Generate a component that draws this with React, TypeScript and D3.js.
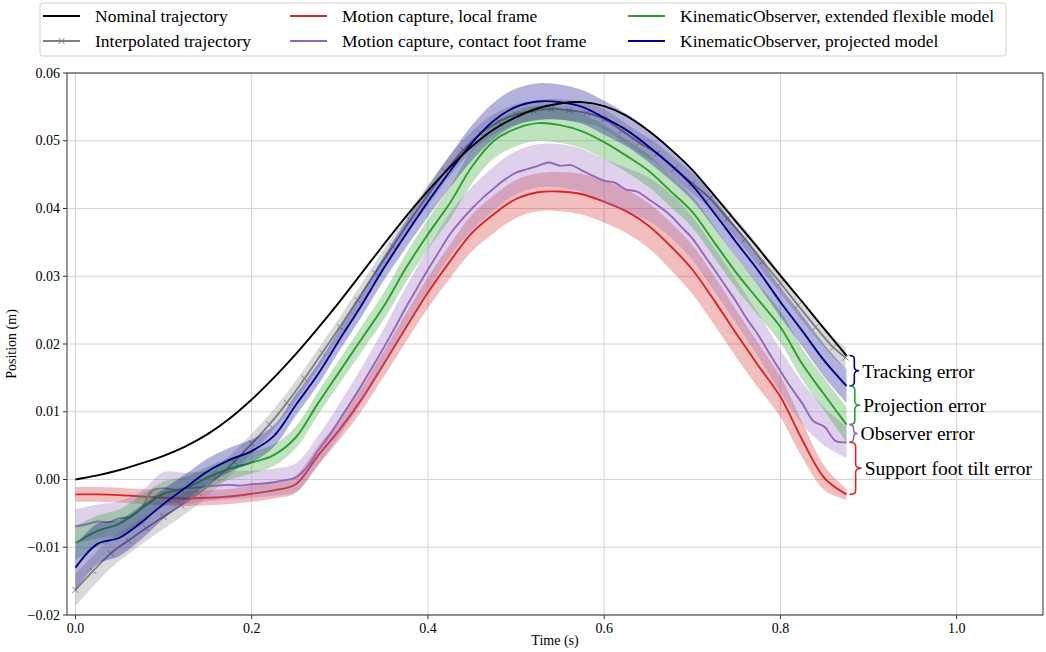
import React from "react";
import * as d3 from "d3";

// ---- data ----
const T = [0, 0.025, 0.05, 0.075, 0.1, 0.125, 0.15, 0.175, 0.2, 0.225, 0.25, 0.275, 0.3, 0.325, 0.35, 0.375, 0.4, 0.425, 0.45, 0.475, 0.5, 0.525, 0.55, 0.575, 0.6, 0.625, 0.65, 0.675, 0.7, 0.725, 0.75, 0.775, 0.8, 0.825, 0.85, 0.875];

const nominal = [0.0, 0.0006, 0.0014, 0.0024, 0.0035, 0.0049, 0.0067, 0.009, 0.0118, 0.015, 0.0185, 0.0223, 0.0263, 0.0305, 0.0347, 0.0388, 0.0426, 0.0461, 0.0492, 0.0517, 0.0535, 0.0548, 0.0555, 0.0557, 0.0551, 0.0537, 0.0515, 0.0488, 0.0457, 0.0419, 0.038, 0.0341, 0.0301, 0.0262, 0.0222, 0.0183];

const Tinterp = [0, 0.02, 0.04, 0.06, 0.08, 0.1, 0.12, 0.14, 0.16, 0.18, 0.2, 0.22, 0.24, 0.26, 0.28, 0.3, 0.32, 0.34, 0.36, 0.38, 0.4, 0.42, 0.44, 0.46, 0.48, 0.5, 0.52, 0.54, 0.56, 0.58, 0.6, 0.62, 0.64, 0.66, 0.68, 0.7, 0.72, 0.74, 0.76, 0.78, 0.8, 0.82, 0.84, 0.86, 0.874];
const interp = [-0.0163, -0.0135, -0.0109, -0.009, -0.0072, -0.0055, -0.0038, -0.002, 0.0002, 0.0026, 0.0053, 0.0081, 0.0113, 0.0149, 0.0187, 0.0225, 0.0265, 0.0305, 0.0344, 0.0383, 0.042, 0.0455, 0.0486, 0.0511, 0.0528, 0.0539, 0.0544, 0.0547, 0.0545, 0.0541, 0.0532, 0.0515, 0.0497, 0.0481, 0.0459, 0.0437, 0.0415, 0.0385, 0.0355, 0.0322, 0.029, 0.0257, 0.0225, 0.0195, 0.018];
const interpBand = [0.0024, 0.0023, 0.0022, 0.002, 0.0019, 0.0018, 0.0017, 0.0016, 0.0015, 0.0015, 0.0015, 0.0015, 0.0015, 0.0015, 0.0015, 0.0015, 0.0015, 0.0015, 0.0015, 0.0015, 0.0015, 0.0015, 0.0015, 0.0015, 0.0015, 0.0015, 0.0015, 0.0015, 0.0015, 0.0015, 0.0015, 0.0015, 0.0015, 0.0015, 0.0015, 0.0015, 0.0015, 0.0015, 0.0015, 0.0015, 0.0015, 0.0015, 0.0015, 0.0015, 0.0015];

const mocapLocal = [-0.0022, -0.0022, -0.0023, -0.0025, -0.0027, -0.0028, -0.0027, -0.0025, -0.0021, -0.0016, -0.0007, 0.0035, 0.0074, 0.0119, 0.0171, 0.0224, 0.0276, 0.0322, 0.0364, 0.0392, 0.0414, 0.0424, 0.0425, 0.0421, 0.041, 0.0396, 0.0375, 0.0345, 0.031, 0.0264, 0.0215, 0.0168, 0.0122, 0.0058, 0.0002, -0.0022];
const mocapLocalBand = [0.0011, 0.0011, 0.0011, 0.0011, 0.0011, 0.0011, 0.0011, 0.0011, 0.0012, 0.0012, 0.0013, 0.0014, 0.0015, 0.0017, 0.0019, 0.0021, 0.0023, 0.0025, 0.0027, 0.0028, 0.0028, 0.0028, 0.0029, 0.003, 0.0031, 0.0032, 0.0033, 0.0035, 0.0036, 0.0036, 0.0035, 0.0033, 0.003, 0.0026, 0.0018, 0.0008];

const Tfine = [0, 0.0125, 0.025, 0.0375, 0.05, 0.0625, 0.075, 0.0875, 0.1, 0.1125, 0.125, 0.1375, 0.15, 0.1625, 0.175, 0.1875, 0.2, 0.2125, 0.225, 0.2375, 0.25, 0.2625, 0.275, 0.2875, 0.3, 0.3125, 0.325, 0.3375, 0.35, 0.3625, 0.375, 0.3875, 0.4, 0.4125, 0.425, 0.4375, 0.45, 0.4625, 0.475, 0.4875, 0.5, 0.5125, 0.525, 0.5375, 0.55, 0.5625, 0.575, 0.5875, 0.6, 0.6125, 0.625, 0.6375, 0.65, 0.6625, 0.675, 0.6875, 0.7, 0.7125, 0.725, 0.7375, 0.75, 0.7625, 0.775, 0.7875, 0.8, 0.8125, 0.825, 0.8375, 0.85, 0.8625, 0.875];
const mocapContact = [-0.0069, -0.0066, -0.0062, -0.0063, -0.0057, -0.0055, -0.0042, -0.0016, -0.0013, -0.0015, -0.0013, -0.0012, -0.001, -0.0009, -0.0008, -0.0009, -0.0007, -0.0006, -0.0004, -0.0001, 0.0003, 0.0018, 0.0042, 0.0064, 0.0089, 0.0114, 0.014, 0.0167, 0.0195, 0.0224, 0.0254, 0.0282, 0.031, 0.0336, 0.0362, 0.0382, 0.04, 0.0416, 0.043, 0.0443, 0.0453, 0.0458, 0.0463, 0.0468, 0.0463, 0.0464, 0.0456, 0.0448, 0.0441, 0.0438, 0.0428, 0.0425, 0.0414, 0.0403, 0.039, 0.0373, 0.0356, 0.0333, 0.031, 0.0286, 0.0262, 0.0236, 0.0213, 0.0186, 0.016, 0.0135, 0.0112, 0.0086, 0.0078, 0.0057, 0.0055];
const mocapContactBand = [0.0025, 0.0025, 0.0025, 0.0025, 0.0024, 0.0023, 0.0022, 0.0021, 0.002, 0.002, 0.0021, 0.0022, 0.0024, 0.0026, 0.0028, 0.003, 0.0031, 0.0032, 0.0032, 0.0032, 0.0032, 0.0032, 0.0032, 0.0032, 0.0032, 0.0032, 0.0032, 0.0032, 0.0032, 0.0032, 0.0032, 0.0032, 0.0032, 0.0031, 0.0028, 0.0023];

const koFlexible = [-0.0094, -0.0076, -0.0065, -0.0043, -0.0021, -0.0013, 0.0003, 0.0016, 0.0025, 0.0036, 0.0062, 0.0112, 0.016, 0.0208, 0.0256, 0.0312, 0.0362, 0.0408, 0.0462, 0.05, 0.0518, 0.0526, 0.0523, 0.0514, 0.0498, 0.0478, 0.0456, 0.0426, 0.0395, 0.035, 0.0305, 0.0265, 0.0225, 0.017, 0.0125, 0.0081];
const koFlexibleBand = [0.0025, 0.0023, 0.0021, 0.002, 0.0018, 0.0017, 0.0016, 0.0016, 0.0016, 0.0016, 0.0016, 0.0017, 0.0018, 0.0019, 0.002, 0.0021, 0.0022, 0.0024, 0.0025, 0.0026, 0.0026, 0.0026, 0.0026, 0.0025, 0.0025, 0.0024, 0.0024, 0.0023, 0.0023, 0.0023, 0.0023, 0.0023, 0.0023, 0.0023, 0.0024, 0.0026];

const koProjected = [-0.013, -0.0095, -0.0086, -0.0063, -0.0036, -0.0012, 0.0012, 0.0029, 0.0042, 0.0064, 0.011, 0.0155, 0.0207, 0.0258, 0.0312, 0.0362, 0.041, 0.0455, 0.0497, 0.053, 0.055, 0.0558, 0.0557, 0.055, 0.0534, 0.0516, 0.0492, 0.0465, 0.0434, 0.0393, 0.035, 0.0308, 0.0262, 0.0219, 0.0175, 0.0138];
const koProjectedBand = [0.0033, 0.003, 0.0027, 0.0025, 0.0022, 0.002, 0.0019, 0.0018, 0.0017, 0.0016, 0.0016, 0.0016, 0.0016, 0.0017, 0.0018, 0.002, 0.0022, 0.0024, 0.0026, 0.0027, 0.0027, 0.0027, 0.0026, 0.0025, 0.0025, 0.0024, 0.0023, 0.0023, 0.0022, 0.0022, 0.0022, 0.0022, 0.0022, 0.0023, 0.0024, 0.0025];

const xTicks = [0.0, 0.2, 0.4, 0.6, 0.8, 1.0];
const yTicks = [-0.02, -0.01, 0.0, 0.01, 0.02, 0.03, 0.04, 0.05, 0.06];

const legendLabels = [
  "Nominal trajectory",
  "Interpolated trajectory",
  "Motion capture, local frame",
  "Motion capture, contact foot frame",
  "KinematicObserver, extended flexible model",
  "KinematicObserver, projected model",
];
const errorLabels = ["Tracking error", "Projection error", "Observer error", "Support foot tilt error"];

// ---- layout ----
const W = 1046;
const H = 652;
const M = { left: 67, right: 1043, top: 73, bottom: 615 };
const FONT = "'Liberation Serif', 'Times New Roman', serif";

const C = {
  black: "#000000",
  gray: "#808080",
  red: "#d62728",
  purple: "#9467bd",
  green: "#2ca02c",
  blue: "#00008b",
};

function brace(x: number, y1: number, y2: number, w: number) {
  const ym = (y1 + y2) / 2;
  const r = Math.min(4, (y2 - y1) / 4);
  const xm = x + w / 2;
  return `M${x},${y1} Q${xm},${y1} ${xm},${y1 + r} L${xm},${ym - r} Q${xm},${ym} ${x + w},${ym} Q${xm},${ym} ${xm},${ym + r} L${xm},${y2 - r} Q${xm},${y2} ${x},${y2}`;
}

export default function App() {
  const x = d3.scaleLinear().domain([-0.0096, 1.098]).range([M.left, M.right]);
  const y = d3.scaleLinear().domain([-0.02, 0.06]).range([M.bottom, M.top]);

  const curve = d3.curveCatmullRom.alpha(0.5);
  const line = (ts: number[], vs: number[]) =>
    d3.line<number>().x((_, i) => x(ts[i])).y((v) => y(v)).curve(curve)(vs) || "";
  const area = (ts: number[], vs: number[], bs: number[]) =>
    d3
      .area<number>()
      .x((_, i) => x(ts[i]))
      .y0((v, i) => y(v - bs[i]))
      .y1((v, i) => y(v + bs[i]))
      .curve(curve)(vs) || "";

  const fmtY = (v: number) => (v < 0 ? "\u2212" : "") + Math.abs(v).toFixed(2);

  // purple band is defined on the coarse grid; its centre is the coarse-grid sample of the line
  const contactCoarse = T.map((t) => mocapContact[Tfine.indexOf(t)]);

  const bandSeries = [
    { ts: Tinterp, vs: interp, bs: interpBand, c: C.gray, lt: Tinterp, lv: interp },
    { ts: T, vs: mocapLocal, bs: mocapLocalBand, c: C.red, lt: T, lv: mocapLocal },
    { ts: T, vs: contactCoarse, bs: mocapContactBand, c: C.purple, lt: Tfine, lv: mocapContact },
    { ts: T, vs: koFlexible, bs: koFlexibleBand, c: C.green, lt: T, lv: koFlexible },
    { ts: T, vs: koProjected, bs: koProjectedBand, c: C.blue, lt: T, lv: koProjected },
  ];

  // braces
  const tEnd = T[T.length - 1];
  const bx = x(tEnd) + 3;
  const ends = [
    nominal[nominal.length - 1],
    koProjected[koProjected.length - 1],
    koFlexible[koFlexible.length - 1],
    mocapContact[mocapContact.length - 1],
    mocapLocal[mocapLocal.length - 1],
  ];
  const braceColors = [C.blue, C.green, C.purple, C.red];

  const legendItems = [
    { label: legendLabels[0], c: C.black, col: 0, row: 0, marker: false },
    { label: legendLabels[1], c: C.gray, col: 0, row: 1, marker: true },
    { label: legendLabels[2], c: C.red, col: 1, row: 0, marker: false },
    { label: legendLabels[3], c: C.purple, col: 1, row: 1, marker: false },
    { label: legendLabels[4], c: C.green, col: 2, row: 0, marker: false },
    { label: legendLabels[5], c: C.blue, col: 2, row: 1, marker: false },
  ];
  const colX = [43, 290, 628];
  const rowY = [16, 41];

  return (
    <svg width={W} height={H} style={{ position: "absolute", left: 0, top: 0, background: "#fff" }} fontFamily={FONT}>
      <defs>
        <clipPath id="plot">
          <rect x={M.left} y={M.top} width={M.right - M.left} height={M.bottom - M.top} />
        </clipPath>
      </defs>
      {/* grid */}
      {xTicks.map((t) => (
        <line key={"gx" + t} x1={x(t)} x2={x(t)} y1={M.top} y2={M.bottom} stroke="#d4d4d4" strokeWidth={1} />
      ))}
      {yTicks.map((t) => (
        <line key={"gy" + t} x1={M.left} x2={M.right} y1={y(t)} y2={y(t)} stroke="#d4d4d4" strokeWidth={1} />
      ))}

      <g clipPath="url(#plot)">
        {bandSeries.map((s, i) => (
          <g key={"s" + i}>
            <path d={area(s.ts, s.vs, s.bs)} fill={s.c} fillOpacity={0.3} stroke="none" />
            <path d={line(s.lt, s.lv)} fill="none" stroke={s.c} strokeWidth={1.9} />
            {i === 0 &&
              s.lt.map((t, j) => {
                const px = x(t);
                const py = y(s.lv[j]);
                return (
                  <path key={"m" + j} d={`M${px - 3},${py - 3}L${px + 3},${py + 3}M${px - 3},${py + 3}L${px + 3},${py - 3}`} stroke={C.gray} strokeWidth={1} />
                );
              })}
          </g>
        ))}
        <path d={line(T, nominal)} fill="none" stroke={C.black} strokeWidth={1.9} />
      </g>

      {/* braces and error labels */}
      {braceColors.map((c, i) => {
        const y1 = y(ends[i]);
        const y2 = y(ends[i + 1]);
        const w = 6 + (y2 - y1) * 0.12;
        return (
          <g key={"b" + i}>
            <path d={brace(bx, y1, y2, w)} fill="none" stroke={c} strokeWidth={1.6} />
            <text x={bx + w + 3} y={(y1 + y2) / 2} dy="0.35em" fontSize={19.5} fill="#000">
              {errorLabels[i]}
            </text>
          </g>
        );
      })}

      {/* spines */}
      <rect x={M.left} y={M.top} width={M.right - M.left} height={M.bottom - M.top} fill="none" stroke="#333" strokeWidth={1} />

      {/* ticks */}
      {xTicks.map((t) => (
        <g key={"xt" + t}>
          <line x1={x(t)} x2={x(t)} y1={M.bottom} y2={M.bottom + 4} stroke="#333" />
          <text x={x(t)} y={M.bottom + 18} textAnchor="middle" fontSize={14}>
            {t.toFixed(1)}
          </text>
        </g>
      ))}
      {yTicks.map((t) => (
        <g key={"yt" + t}>
          <line x1={M.left - 4} x2={M.left} y1={y(t)} y2={y(t)} stroke="#333" />
          <text x={M.left - 7} y={y(t)} dy="0.33em" textAnchor="end" fontSize={14}>
            {fmtY(t)}
          </text>
        </g>
      ))}
      <text x={(M.left + M.right) / 2} y={645} textAnchor="middle" fontSize={14}>
        Time (s)
      </text>
      <text transform={`translate(16,${(M.top + M.bottom) / 2}) rotate(-90)`} textAnchor="middle" fontSize={14}>
        Position (m)
      </text>

      {/* legend */}
      <rect x={40} y={3} width={966} height={53} rx={3} fill="#fff" fillOpacity={0.8} stroke="#d0d0d0" strokeWidth={1} />
      {legendItems.map((it, i) => {
        const lx = colX[it.col];
        const ly = rowY[it.row];
        return (
          <g key={"lg" + i}>
            <line x1={lx} x2={lx + 37} y1={ly} y2={ly} stroke={it.c} strokeWidth={2} />
            {it.marker && (
              <path d={`M${lx + 15.5},${ly - 3}L${lx + 21.5},${ly + 3}M${lx + 15.5},${ly + 3}L${lx + 21.5},${ly - 3}`} stroke={it.c} strokeWidth={1} />
            )}
            <text x={lx + 52} y={ly} dy="0.35em" fontSize={17.5}>
              {it.label}
            </text>
          </g>
        );
      })}
    </svg>
  );
}
